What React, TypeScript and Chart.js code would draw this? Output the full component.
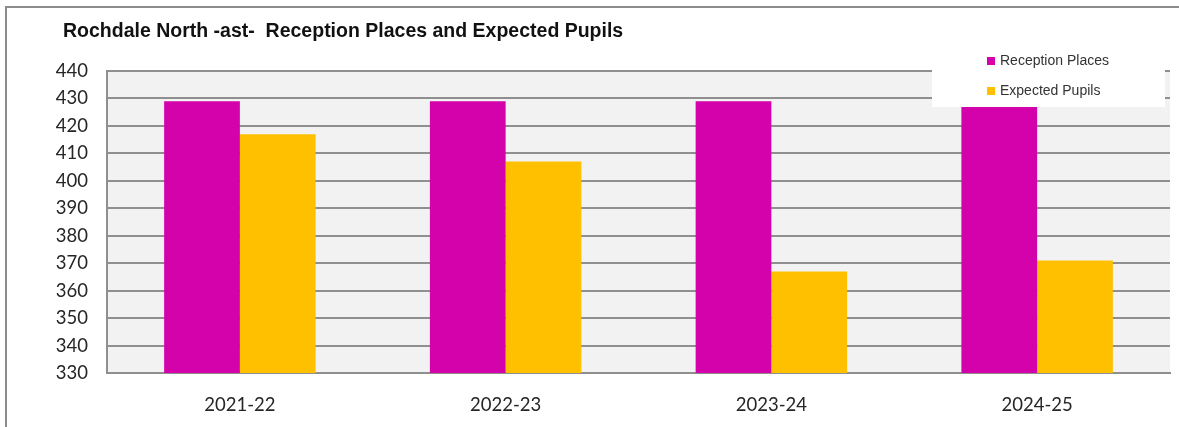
import React, { useEffect, useRef } from "react";
import { Chart, registerables } from "chart.js";

Chart.register(...registerables);

const categories = ["2021-22", "2022-23", "2023-24", "2024-25"];
const receptionPlaces = [429, 429, 429, 429];
const expectedPupils = [417, 407, 367, 371];
const yTicks = { min: 330, max: 440, step: 10 };
const titleText = "Rochdale North -ast-  Reception Places and Expected Pupils";
const seriesNames = ["Reception Places", "Expected Pupils"];
const seriesColors = ["#d402aa", "#ffc000"];

const GRID = "#8f8f8f";

const bgPlugin = {
  id: "plotBg",
  beforeDraw(chart: any) {
    const { ctx, chartArea } = chart;
    ctx.save();
    ctx.fillStyle = "#f2f2f2";
    ctx.fillRect(chartArea.left, chartArea.top, chartArea.right - chartArea.left, chartArea.bottom - chartArea.top);
    ctx.restore();
  },
};

const overlayPlugin = {
  id: "overlay",
  afterDraw(chart: any) {
    const { ctx } = chart;
    ctx.save();
    // frame
    ctx.strokeStyle = "#8c8c8c";
    ctx.lineWidth = 2;
    ctx.beginPath();
    ctx.moveTo(6, 427);
    ctx.lineTo(6, 7);
    ctx.lineTo(1179, 7);
    ctx.stroke();
    // title
    ctx.fillStyle = "#111111";
    ctx.font = "bold 19.5px 'Liberation Sans', Arial, sans-serif";
    ctx.textAlign = "left";
    ctx.textBaseline = "middle";
    ctx.fillText(titleText, 63, 32);
    // legend
    ctx.fillStyle = "#ffffff";
    ctx.fillRect(932, 56, 233, 51);
    const ds = chart.data.datasets;
    ds.forEach((d: any, i: number) => {
      const cy = 61 + i * 30;
      ctx.fillStyle = d.backgroundColor;
      ctx.fillRect(987, cy - 4, 8, 8);
      ctx.fillStyle = "#333333";
      ctx.font = "14px 'Liberation Sans', Arial, sans-serif";
      ctx.textBaseline = "middle";
      ctx.fillText(d.label, 1000, cy);
    });
    ctx.restore();
  },
};

export default function App() {
  const ref = useRef<HTMLCanvasElement>(null);
  useEffect(() => {
    if (!ref.current) return;
    const chart = new Chart(ref.current, {
      type: "bar",
      data: {
        labels: categories,
        datasets: [
          { label: seriesNames[0], data: receptionPlaces, backgroundColor: seriesColors[0] },
          { label: seriesNames[1], data: expectedPupils, backgroundColor: seriesColors[1] },
        ],
      },
      options: {
        animation: false,
        responsive: false,
        maintainAspectRatio: false,
        devicePixelRatio: 1,
        layout: { padding: { left: 0, right: 9, top: 71, bottom: 0 } },
        datasets: { bar: { barPercentage: 1, categoryPercentage: 0.57 } },
        plugins: { legend: { display: false }, title: { display: false }, tooltip: { enabled: false } },
        scales: {
          x: {
            grid: { display: false },
            border: { display: true, color: GRID, width: 2 },
            ticks: { padding: 13, color: "#262626", font: { family: "Lato, 'Open Sans', sans-serif", size: 18.5 } },
            afterFit(scale: any) {
              scale.height = 54;
            },
          },
          y: {
            min: yTicks.min,
            max: yTicks.max,
            ticks: {
              stepSize: yTicks.step,
              padding: 19,
              color: "#262626",
              font: { family: "Lato, 'Open Sans', sans-serif", size: 18.5 },
            },
            grid: { color: GRID, lineWidth: 2, drawTicks: false },
            border: { display: true, color: GRID, width: 2 },
            afterFit(scale: any) {
              scale.width = 107;
            },
          },
        },
      },
      plugins: [bgPlugin, overlayPlugin],
    });
    return () => chart.destroy();
  }, []);
  return (
    <div style={{ position: "fixed", left: 0, top: 0, width: 1179, height: 427, background: "#fff" }}>
      <canvas ref={ref} width={1179} height={427} style={{ width: 1179, height: 427, display: "block" }} />
    </div>
  );
}
